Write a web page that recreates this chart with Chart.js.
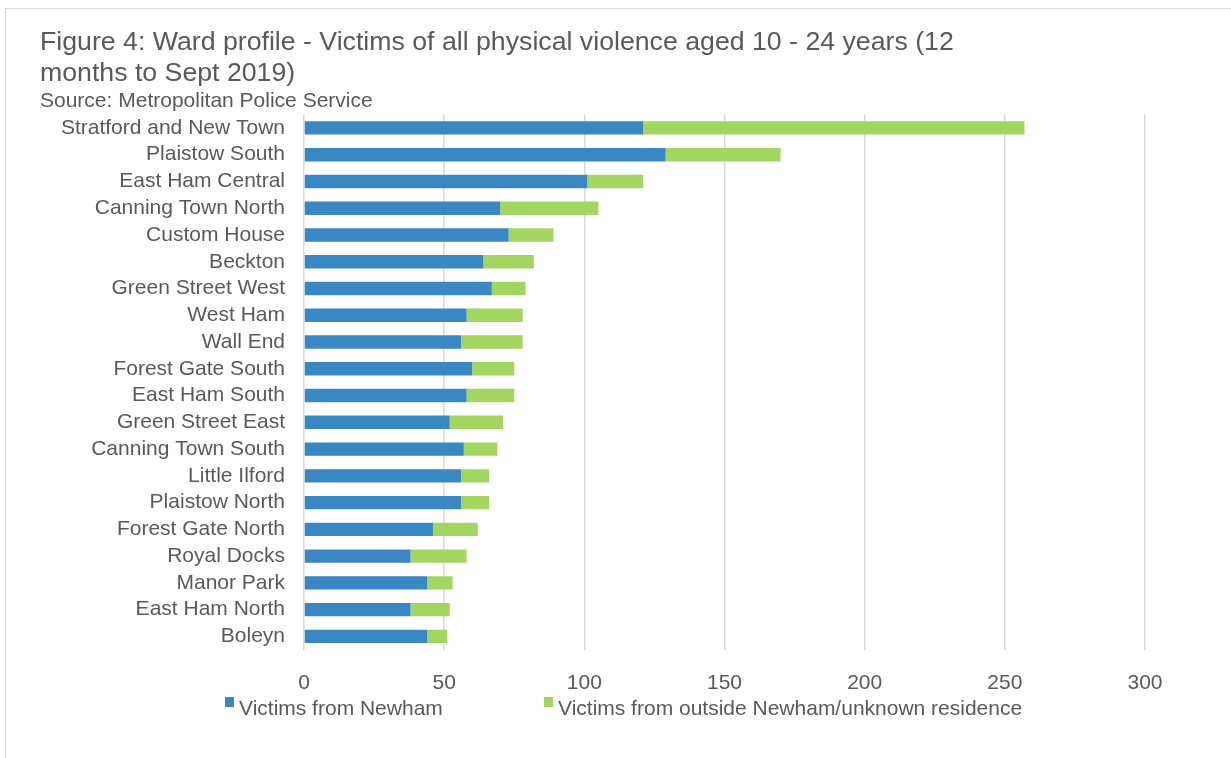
<!DOCTYPE html>
<html>
<head>
<meta charset="utf-8">
<script src="https://cdn.jsdelivr.net/npm/chart.js@4"></script>
<style>
  body { margin: 0; background: #fff; font-family: "Liberation Sans", Arial, Helvetica, sans-serif; }
  .frame { position: absolute; left: 5px; top: 8px; width: 1300px; height: 800px; border-left: 1px solid #d9d9d9; border-top: 1px solid #d9d9d9; }
  #chart { position: absolute; left: 0; top: 0; }
  .legend { position: absolute; top: 695px; left: 0; width: 1231px; height: 28px; font-size: 21px; color: #595959; }
  .legend .item { position: absolute; top: 0; white-space: nowrap; line-height: 26px; }
  .legend .box { display: inline-block; width: 9px; height: 10px; margin-right: 5px; vertical-align: 8px; }
</style>
</head>
<body>
<div class="frame"></div>
<canvas id="chart" width="1231" height="758"></canvas>
<div class="legend" id="legend"></div>
<script>
const wards = [
  "Stratford and New Town", "Plaistow South", "East Ham Central", "Canning Town North",
  "Custom House", "Beckton", "Green Street West", "West Ham", "Wall End",
  "Forest Gate South", "East Ham South", "Green Street East", "Canning Town South",
  "Little Ilford", "Plaistow North", "Forest Gate North", "Royal Docks", "Manor Park",
  "East Ham North", "Boleyn"
];
const fromNewham = [121, 129, 101, 70, 73, 64, 67, 58, 56, 60, 58, 52, 57, 56, 56, 46, 38, 44, 38, 44];
const fromOutside = [136, 41, 20, 35, 16, 18, 12, 20, 22, 15, 17, 19, 12, 10, 10, 16, 20, 9, 14, 7];
const xTicks = [0, 50, 100, 150, 200, 250, 300];

const textColor = "#595959";
const fontFamily = '"Liberation Sans", Arial, Helvetica, sans-serif';

const chart = new Chart(document.getElementById("chart"), {
  type: "bar",
  data: {
    labels: wards,
    datasets: [
      { label: "Victims from Newham", data: fromNewham, backgroundColor: "#3a88c3" },
      { label: "Victims from outside Newham/unknown residence", data: fromOutside, backgroundColor: "#a2d661" }
    ]
  },
  options: {
    indexAxis: "y",
    responsive: false,
    animation: false,
    barPercentage: 0.5,
    categoryPercentage: 1,
    layout: { padding: { left: 40, right: 86, top: 0, bottom: 41 } },
    plugins: {
      legend: { display: false },
      tooltip: { enabled: false },
      title: {
        display: true,
        align: "start",
        text: [
          "Figure 4: Ward profile - Victims of all physical violence aged 10 - 24 years (12",
          "months to Sept 2019)"
        ],
        color: textColor,
        font: { family: fontFamily, size: 26.7, weight: "normal", lineHeight: 1.13 },
        padding: { top: 28, bottom: 0 }
      },
      subtitle: {
        display: true,
        align: "start",
        text: "Source: Metropolitan Police Service",
        color: textColor,
        font: { family: fontFamily, size: 21, weight: "normal", lineHeight: 1.2 },
        padding: { top: 0, bottom: 1 }
      }
    },
    scales: {
      x: {
        stacked: true,
        min: 0,
        max: 300,
        afterBuildTicks: scale => { scale.ticks = xTicks.map(v => ({ value: v })); },
        grid: { color: "#d9d9d9", lineWidth: 1.5, drawTicks: false },
        border: { display: false },
        ticks: { color: textColor, padding: 21, font: { family: fontFamily, size: 21 } }
      },
      y: {
        stacked: true,
        afterFit: scale => { scale.width = 264; },
        grid: { display: false, drawTicks: false },
        border: { display: false },
        ticks: { color: textColor, padding: 19, autoSkip: false, font: { family: fontFamily, size: 21 } }
      }
    }
  }
});

// legend built from the chart's datasets
const legendLeft = [225, 544];
const legendEl = document.getElementById("legend");
chart.data.datasets.forEach((ds, i) => {
  const item = document.createElement("div");
  item.className = "item";
  item.style.left = legendLeft[i] + "px";
  const box = document.createElement("span");
  box.className = "box";
  box.style.background = ds.backgroundColor;
  item.appendChild(box);
  item.appendChild(document.createTextNode(ds.label));
  legendEl.appendChild(item);
});
</script>
</body>
</html>
